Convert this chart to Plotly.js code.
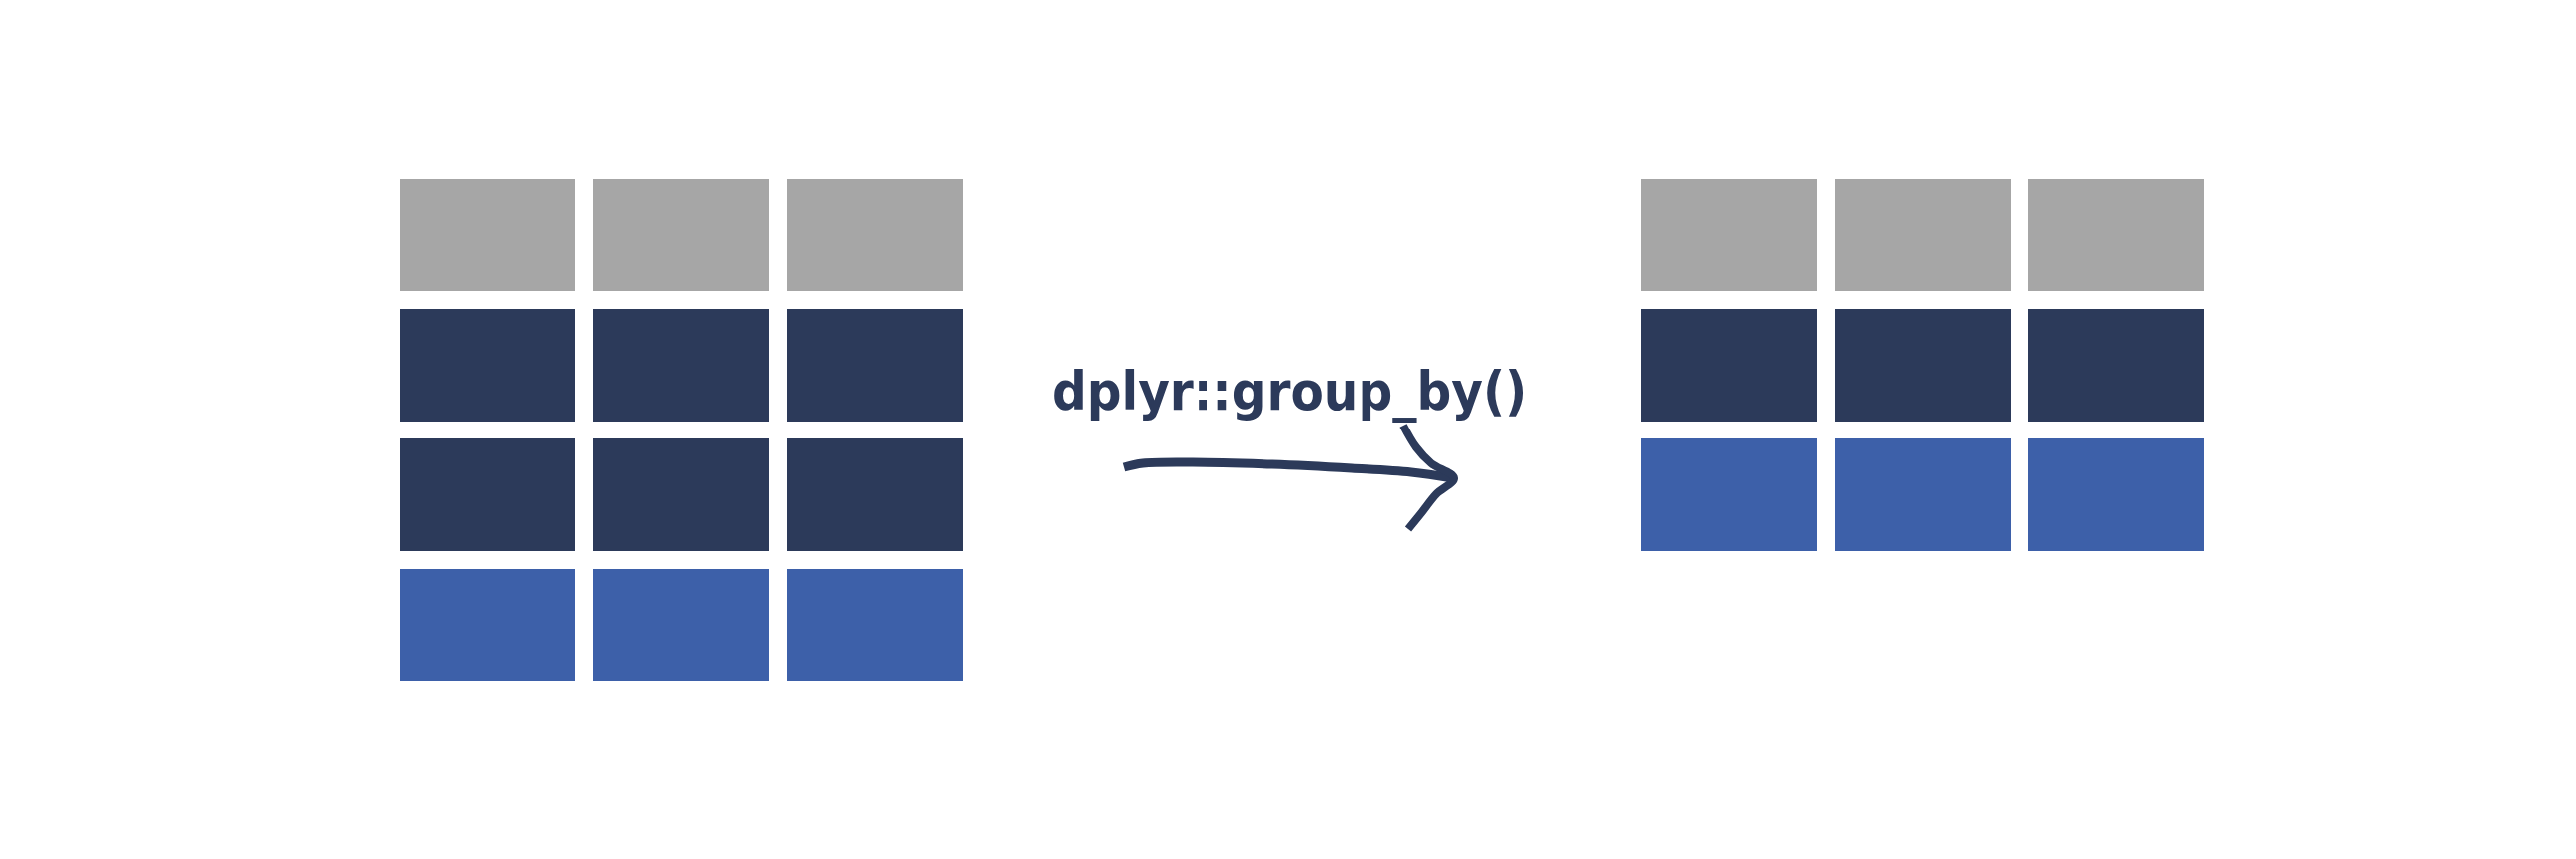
<!DOCTYPE html>
<html><head><script src="https://cdn.plot.ly/plotly-3.0.1.min.js"></script>
<style>body{margin:0;background:#fff}</style></head><body>
<div id="c" style="width:2592px;height:864px"></div>
<script>
const leftColumns = [402, 597, 792];
const rightColumns = [1651, 1846, 2041];
const cellWidth = 177;
const rowTops = [180, 311, 441, 572];
const rowHeight = 113;
const leftRowColors = ['#a6a6a6', '#2c3a5a', '#2c3a5a', '#3d60a9'];
const rightRowColors = ['#a6a6a6', '#2c3a5a', '#3d60a9'];
const labelText = 'dplyr::group_by()';
const arrowX = [1131, 1150, 1200, 1280, 1360, 1420, 1462];
const arrowY = [470, 466, 465, 467, 471, 475, 481];
const headX = [1412, 1425, 1440, 1463, 1445, 1430, 1417];
const headY = [428, 450, 466, 481, 497, 516, 532];

const shapes = [];
function grid(cols, colors){
  colors.forEach((col, r) => cols.forEach(x => shapes.push({
    type:'rect', xref:'x', yref:'y', x0:x, x1:x+cellWidth,
    y0:rowTops[r], y1:rowTops[r]+rowHeight, fillcolor:col, line:{width:0}})));
}
grid(leftColumns, leftRowColors);
grid(rightColumns, rightRowColors);

Plotly.newPlot('c', [
  {x:arrowX, y:arrowY, mode:'lines', line:{color:'#2c3a5a', width:9, shape:'spline'}, hoverinfo:'skip'},
  {x:headX, y:headY, mode:'lines', line:{color:'#2c3a5a', width:8, shape:'spline'}, hoverinfo:'skip'}
], {
  width:2592, height:864, margin:{l:0,r:0,t:0,b:0}, showlegend:false,
  paper_bgcolor:'#fff', plot_bgcolor:'#fff',
  xaxis:{range:[0,2592], visible:false, fixedrange:true},
  yaxis:{range:[864,0], visible:false, fixedrange:true},
  shapes:shapes,
  annotations:[{x:1297, y:393, xref:'x', yref:'y', text:'<b>'+labelText+'</b>', showarrow:false,
    font:{family:'DejaVu Sans Condensed, DejaVu Sans', size:54, color:'#2c3a5a'}}]
}, {staticPlot:true});
</script></body></html>
